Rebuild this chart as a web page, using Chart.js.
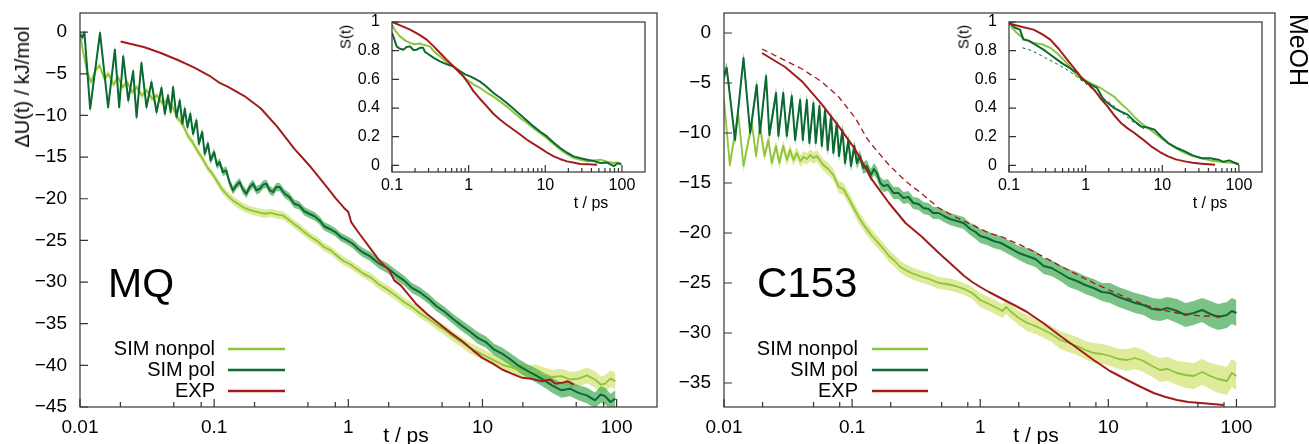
<!DOCTYPE html>
<html><head><meta charset="utf-8">
<script src="https://cdn.jsdelivr.net/npm/chart.js@4.4.1/dist/chart.umd.min.js"></script>
<style>
html,body{margin:0;padding:0;background:#fff;}
body{width:1309px;height:444px;overflow:hidden;position:relative;font-family:"Liberation Sans",Arial,Helvetica,sans-serif;color:#000;}
canvas{position:absolute;}
.t{position:absolute;white-space:nowrap;line-height:1;}
</style></head><body>
<canvas id="mainL" width="665" height="444" style="left:0;top:0"></canvas>
<canvas id="mainR" width="644" height="444" style="left:665px;top:0"></canvas>
<canvas id="insL" width="330" height="215" style="left:330px;top:0"></canvas>
<canvas id="insR" width="330" height="215" style="left:947px;top:0"></canvas>

<div class="t" style="left:22px;top:87px;font-size:20px;transform:translate(-50%,-50%) rotate(-90deg)">ΔU(t) / kJ/mol</div>
<div class="t" style="left:108px;top:283px;font-size:41px;transform:translate(0,-50%)">MQ</div>
<div class="t" style="left:757px;top:283px;font-size:42px;transform:translate(0,-50%)">C153</div>
<div class="t" style="left:406px;top:434px;font-size:21px;transform:translate(-50%,-50%)">t / ps</div>
<div class="t" style="left:1036px;top:434px;font-size:21px;transform:translate(-50%,-50%)">t / ps</div>
<div class="t" style="left:591px;top:203px;font-size:16px;transform:translate(-50%,-50%)">t / ps</div>
<div class="t" style="left:1210px;top:203px;font-size:16px;transform:translate(-50%,-50%)">t / ps</div>
<div class="t" style="left:345px;top:37px;font-size:15px;transform:translate(-50%,-50%) rotate(-90deg)">S(t)</div>
<div class="t" style="left:963px;top:37px;font-size:15px;transform:translate(-50%,-50%) rotate(-90deg)">S(t)</div>
<div class="t" style="left:1298px;top:50px;font-size:25px;transform:translate(-50%,-50%) rotate(90deg)">MeOH</div>

<script>
// ---------------- DATA ----------------
const legendLabels = ['SIM nonpol', 'SIM pol', 'EXP'];
const mainXTicks = [0.01, 0.1, 1, 10, 100];
const mainXLabels = ['0.01', '0.1', '1', '10', '100'];
const mainXMinor = [0.02, 0.05, 0.08, 0.2, 0.5, 0.8, 2, 5, 8, 20, 50, 80];
const mqYTicks = [-45, -40, -35, -30, -25, -20, -15, -10, -5, 0];
const c153YTicks = [-35, -30, -25, -20, -15, -10, -5, 0];
const insetXTicks = [0.1, 1, 10, 100];
const insetXLabels = ['0.1', '1', '10', '100'];
const insetXMinor = [0.2,0.3,0.4,0.5,0.6,0.7,0.8,0.9,2,3,4,5,6,7,8,9,20,30,40,50,60,70,80,90];
const insetYTicks = [0, 0.2, 0.4, 0.6, 0.8, 1];
const insetYLabels = ['0', '0.2', '0.4', '0.6', '0.8', '1'];

// MQ main panel: [t (ps), dU (kJ/mol), band half-width]
const mqNonpol = [
[0.0100,-0.3,0.4],[0.0106,-2.5,0.4],[0.0113,-4.8,0.4],[0.0121,-6.0,0.4],[0.0130,-4.6,0.4],[0.0140,-4.0,0.4],
[0.0152,-5.6,0.4],[0.0163,-5.0,0.4],[0.0178,-6.3,0.4],[0.0192,-5.4,0.4],[0.0208,-6.6,0.4],[0.0225,-6.0,0.4],
[0.0245,-7.2,0.4],[0.0265,-6.6,0.4],[0.0290,-7.6,0.4],[0.0315,-7.0,0.4],[0.0345,-8.0,0.4],[0.0375,-7.6,0.4],
[0.041,-8.5,0.4],[0.045,-8.2,0.4],[0.049,-9.0,0.4],[0.0536,-10.3,0.45],[0.058,-11.0,0.45],[0.0635,-12.4,0.45],
[0.069,-13.2,0.45],[0.0754,-14.3,0.45],[0.082,-15.2,0.45],[0.0895,-16.3,0.45],[0.097,-17.0,0.45],[0.106,-18.0,0.5],
[0.115,-18.9,0.5],[0.126,-19.6,0.5],[0.138,-20.2,0.5],[0.150,-20.6,0.5],[0.168,-21.1,0.5],[0.188,-21.4,0.5],
[0.21,-21.6,0.5],[0.236,-21.8,0.5],[0.265,-21.7,0.5],[0.296,-21.9,0.5],[0.325,-22.0,0.5],[0.352,-22.4,0.5],
[0.385,-22.9,0.5],[0.418,-23.3,0.5],[0.47,-24.0,0.5],[0.525,-24.6,0.5],[0.59,-25.1,0.5],[0.659,-25.8,0.5],
[0.74,-26.2,0.5],[0.83,-26.9,0.5],[0.93,-27.5,0.5],[1.04,-27.9,0.5],[1.15,-28.4,0.5],[1.27,-28.9,0.5],
[1.48,-29.5,0.55],[1.70,-30.3,0.55],[1.95,-30.9,0.55],[2.25,-31.6,0.55],[2.6,-32.4,0.55],[2.98,-33.0,0.55],
[3.45,-33.8,0.55],[3.96,-34.4,0.55],[4.6,-35.2,0.6],[5.25,-35.8,0.6],[6.0,-36.5,0.6],[6.96,-37.2,0.6],
[8.0,-37.9,0.65],[9.23,-38.4,0.65],[10.6,-38.9,0.65],[12.2,-39.4,0.7],[14.0,-39.9,0.7],[16.2,-40.2,0.75],
[18.8,-40.6,0.75],[21.8,-40.8,0.8],[25,-40.7,0.8],[29,-41.1,0.85],[33,-41.4,0.85],[38.8,-41.3,0.9],
[45,-41.7,0.9],[52,-41.6,0.95],[60,-41.2,0.95],[69,-41.7,1.0],[76,-42.3,1.0],[82,-42.2,1.0],[90,-41.6,1.0],[98,-41.9,1.0]
];
const mqPol = [
[0.0100,-0.3,0.4],[0.0104,-0.6,0.4],[0.0108,-0.1,0.4],[0.0119,-9.2,0.5],[0.0141,-0.1,0.5],[0.0162,-9.0,0.5],
[0.0182,-2.1,0.5],[0.0196,-9.0,0.5],[0.0210,-2.9,0.5],[0.0229,-8.2,0.5],[0.0249,-4.7,0.5],[0.0264,-10.2,0.5],
[0.0287,-3.7,0.5],[0.0313,-9.0,0.5],[0.0341,-6.0,0.5],[0.0372,-9.6,0.5],[0.0405,-6.7,0.5],[0.0429,-9.8,0.5],
[0.0453,-7.6,0.5],[0.0474,-9.6,0.5],[0.0494,-6.6,0.5],[0.0524,-10.2,0.5],[0.0554,-8.2,0.5],[0.0580,-11.0,0.5],
[0.0604,-9.2,0.5],[0.0633,-11.4,0.5],[0.0664,-9.8,0.5],[0.0696,-12.2,0.5],[0.0738,-10.6,0.5],[0.0769,-13.4,0.5],
[0.0815,-12.0,0.5],[0.085,-14.6,0.5],[0.090,-13.4,0.5],[0.094,-15.4,0.5],[0.100,-14.4,0.5],[0.105,-16.0,0.5],
[0.110,-15.6,0.5],[0.116,-16.8,0.5],[0.123,-16.6,0.5],[0.130,-18.0,0.5],[0.138,-19.0,0.5],[0.146,-18.4,0.5],
[0.155,-18.0,0.5],[0.164,-18.9,0.5],[0.174,-19.4,0.5],[0.184,-18.6,0.5],[0.195,-18.2,0.5],[0.207,-19.0,0.5],
[0.219,-18.8,0.5],[0.232,-18.3,0.5],[0.245,-18.2,0.5],[0.26,-19.0,0.5],[0.275,-19.2,0.5],[0.29,-18.6,0.5],
[0.308,-18.6,0.5],[0.335,-19.4,0.5],[0.364,-19.8,0.5],[0.395,-20.6,0.5],[0.43,-20.8,0.5],[0.47,-21.5,0.5],
[0.51,-21.8,0.5],[0.56,-22.1,0.5],[0.61,-22.6,0.5],[0.66,-23.3,0.5],[0.72,-23.6,0.5],[0.8,-24.0,0.5],
[0.88,-24.6,0.5],[0.96,-24.9,0.5],[1.08,-25.4,0.55],[1.18,-26.0,0.55],[1.27,-26.4,0.55],[1.45,-26.9,0.55],
[1.70,-27.8,0.6],[1.95,-28.3,0.6],[2.25,-29.1,0.6],[2.6,-29.8,0.6],[2.98,-30.7,0.6],[3.4,-31.2,0.6],
[3.96,-32.0,0.6],[4.55,-32.9,0.6],[5.25,-33.6,0.6],[6.0,-34.4,0.6],[6.96,-35.2,0.65],[8.0,-35.9,0.65],
[9.23,-36.7,0.7],[10.6,-37.2,0.7],[12.2,-38.1,0.7],[14.0,-38.6,0.75],[16.2,-39.3,0.75],[18.8,-40.1,0.8],
[21.8,-40.7,0.8],[25,-41.2,0.85],[29,-41.8,0.85],[33,-42.4,0.9],[38.8,-43.0,0.9],[45,-42.8,0.9],
[52,-43.3,0.9],[60,-43.6,0.95],[69,-44.2,0.95],[76,-43.5,1.0],[82,-43.7,1.0],[90,-44.4,1.0],[98,-44.0,1.0]
];
const mqExp = [
[0.0201,-1.13],[0.0303,-1.81],[0.040,-2.5],[0.0536,-3.34],[0.070,-4.2],[0.0946,-5.35],[0.11,-6.1],[0.126,-6.55],
[0.168,-7.67],[0.223,-9.16],[0.296,-11.37],[0.395,-13.98],[0.525,-16.19],[0.70,-18.7],[0.80,-19.9],[0.93,-21.1],
[1.0,-21.6],[1.05,-22.8],[1.21,-24.2],[1.45,-25.9],[1.70,-27.4],[2.02,-28.6],[2.2,-29.8],[2.46,-30.4],[3.19,-32.6],
[3.9,-33.9],[4.75,-35.0],[5.8,-36.1],[7.08,-37.1],[8.5,-38.2],[9.97,-39.1],[12,-39.8],[14.0,-40.5],[16.5,-41.0],
[19.8,-41.5],[23,-41.6],[27.8,-41.9],[32,-41.7],[35,-42.2],[39.2,-42.1],[43,-41.9],[47.9,-42.3]
];

// C153 main panel
const c153Nonpol = [
[0.0100,-6.7,0.6],[0.0111,-13.2,0.6],[0.0129,-8.0,0.6],[0.0142,-13.3,0.6],[0.0165,-9.0,0.6],[0.0178,-12.3,0.6],
[0.0191,-9.3,0.6],[0.0207,-12.3,0.6],[0.0222,-10.7,0.6],[0.0236,-13.0,0.6],[0.0255,-11.3,0.6],[0.027,-13.0,0.6],
[0.029,-11.3,0.6],[0.031,-12.7,0.6],[0.0328,-11.7,0.6],[0.0348,-12.7,0.6],[0.037,-12.0,0.6],[0.0395,-12.8,0.6],
[0.0417,-12.4,0.6],[0.0445,-12.6,0.6],[0.047,-12.2,0.6],[0.050,-12.5,0.6],[0.053,-12.3,0.6],[0.0565,-12.8,0.6],
[0.0597,-13.2,0.6],[0.065,-13.6,0.6],[0.0714,-14.2,0.6],[0.0787,-15.4,0.6],[0.0855,-15.6,0.6],[0.0964,-16.8,0.6],
[0.106,-17.8,0.6],[0.115,-18.6,0.6],[0.128,-19.5,0.6],[0.143,-20.3,0.6],[0.16,-21.0,0.6],[0.176,-21.6,0.6],
[0.194,-22.3,0.6],[0.215,-22.8,0.6],[0.238,-23.4,0.6],[0.261,-23.7,0.6],[0.29,-24.0,0.6],[0.32,-24.2,0.6],
[0.352,-24.4,0.6],[0.40,-24.6,0.6],[0.475,-25.0,0.6],[0.55,-25.1,0.6],[0.641,-25.3,0.6],[0.75,-25.6,0.6],
[0.866,-26.0,0.6],[1.0,-26.7,0.7],[1.17,-27.1,0.7],[1.35,-27.5,0.7],[1.49,-27.8,0.7],[1.6,-27.4,0.7],
[1.71,-27.8,0.7],[2.0,-28.5,0.7],[2.32,-29.0,0.8],[2.7,-29.3,0.8],[3.13,-29.7,0.8],[3.6,-30.1,0.8],
[4.22,-30.7,0.9],[4.9,-31.0,0.9],[5.69,-31.3,0.9],[6.6,-31.7,0.9],[7.67,-32.0,1.0],[8.9,-32.1,1.0],
[10.3,-32.3,1.0],[12,-32.6,1.0],[14.0,-32.7,1.1],[16.2,-32.5,1.1],[18.8,-32.8,1.1],[22,-33.3,1.1],
[25.4,-33.7,1.2],[29,-33.6,1.2],[34.4,-34.0,1.2],[40,-34.2,1.3],[46.4,-34.3,1.3],[54,-33.9,1.3],
[62.5,-34.3,1.3],[72,-34.6,1.4],[84.3,-34.8,1.4],[92,-34.0,1.4],[100,-34.3,1.4]
];
const c153Pol = [
[0.0100,-4.3,0.6],[0.0105,-3.5,0.6],[0.0122,-10.7,0.6],[0.0142,-2.5,0.6],[0.0160,-10.0,0.6],[0.0180,-5.2,0.6],
[0.0191,-10.0,0.6],[0.0213,-4.3,0.6],[0.0226,-10.2,0.6],[0.0255,-6.0,0.6],[0.0266,-10.3,0.6],[0.0290,-6.0,0.6],
[0.0309,-10.3,0.6],[0.0338,-6.3,0.6],[0.0359,-10.7,0.6],[0.0393,-6.7,0.6],[0.0412,-10.7,0.6],[0.0443,-6.7,0.6],
[0.0464,-11.0,0.6],[0.0499,-7.0,0.6],[0.0520,-11.0,0.6],[0.0556,-7.3,0.6],[0.0580,-11.3,0.6],[0.0615,-7.7,0.6],
[0.0645,-11.7,0.6],[0.0685,-8.3,0.6],[0.0714,-12.0,0.6],[0.0759,-9.0,0.6],[0.079,-12.3,0.6],[0.084,-9.7,0.6],
[0.088,-13.0,0.6],[0.0935,-10.7,0.6],[0.098,-13.3,0.6],[0.104,-11.3,0.6],[0.109,-13.0,0.6],[0.115,-12.3,0.6],
[0.122,-13.5,0.6],[0.130,-13.3,0.6],[0.140,-14.2,0.6],[0.148,-13.6,0.6],[0.156,-14.0,0.6],[0.166,-15.0,0.6],
[0.176,-15.3,0.6],[0.19,-15.2,0.6],[0.21,-16.0,0.6],[0.23,-16.0,0.6],[0.252,-16.5,0.6],[0.275,-16.4,0.6],
[0.30,-17.0,0.6],[0.33,-17.1,0.6],[0.36,-17.5,0.6],[0.395,-17.6,0.6],[0.43,-18.0,0.6],[0.475,-18.0,0.6],
[0.52,-18.3,0.6],[0.58,-18.6,0.6],[0.657,-18.8,0.6],[0.74,-19.0,0.6],[0.836,-19.6,0.6],[0.92,-19.9,0.7],
[1.0,-20.3,0.7],[1.13,-20.5,0.7],[1.27,-20.8,0.7],[1.45,-21.0,0.7],[1.71,-21.5,0.7],[2.0,-22.0,0.7],
[2.32,-22.3,0.8],[2.7,-22.6,0.8],[3.13,-23.3,0.8],[3.6,-23.5,0.8],[4.22,-24.0,0.8],[4.9,-24.5,0.9],
[5.69,-24.8,0.9],[6.6,-25.2,0.9],[7.67,-25.5,0.9],[8.9,-25.9,0.9],[10.3,-26.0,1.0],[12,-26.4,1.0],
[14.0,-26.7,1.0],[16.2,-27.0,1.0],[18.8,-27.2,1.0],[22,-27.6,1.1],[25.4,-27.7,1.1],[29,-27.5,1.1],
[34.4,-27.8,1.2],[40,-28.2,1.2],[46.4,-28.0,1.2],[54,-27.7,1.2],[62.5,-28.1,1.3],[72,-28.4,1.3],
[84.3,-28.2,1.3],[92,-27.8,1.3],[100,-28.0,1.3]
];
const c153Exp = [
[0.0198,-2.0],[0.030,-3.4],[0.0407,-4.84],[0.0583,-7.17],[0.0787,-9.34],[0.106,-11.67],[0.143,-14.67],
[0.194,-17.0],[0.261,-19.0],[0.352,-20.4],[0.475,-22.0],[0.641,-23.5],[0.75,-24.3],[0.866,-24.9],[1.0,-25.4],
[1.17,-25.9],[1.49,-26.6],[1.9,-27.3],[2.32,-27.9],[3.1,-29.0],[4.22,-30.3],[5.7,-31.5],[7.67,-32.7],[10.3,-33.8],
[14.0,-34.7],[18,-35.4],[22.6,-36.0],[28,-36.4],[34.4,-36.7],[42,-36.9],[52.4,-37.0],[65,-37.1],[79.5,-37.2]
];
const c153ExpShifted = [
[0.0198,-1.6],[0.0407,-3.6],[0.0583,-4.9],[0.0787,-6.4],[0.106,-8.5],[0.13,-10.5],[0.143,-11.2],[0.194,-13.2],
[0.261,-14.8],[0.352,-16.1],[0.475,-17.5],[0.641,-18.4],[0.866,-19.2],[1.17,-20.0],[1.49,-20.4],[2.32,-21.5],
[4.22,-23.3],[7.67,-25.0],[14.0,-26.5],[22.6,-27.5],[34.4,-28.0],[52.4,-28.3],[79.5,-28.3]
];

// insets: [t (ps), S(t)]
const mqInsetExp = [
[0.1,1.0],[0.13,0.975],[0.172,0.947],[0.22,0.915],[0.284,0.877],[0.35,0.83],[0.424,0.784],[0.52,0.735],
[0.633,0.691],[0.74,0.655],[0.855,0.621],[1.0,0.57],[1.16,0.516],[1.4,0.465],[1.73,0.412],[2.1,0.36],
[2.58,0.319],[3.1,0.285],[3.86,0.249],[4.7,0.215],[5.77,0.179],[7.0,0.15],[8.61,0.121],[10.5,0.09],
[12.9,0.063],[15.5,0.045],[19.2,0.028],[23,0.02],[28.7,0.01],[36,0.008],[47.4,0.005]
];
const mqInsetNonpol = [
[0.1,0.98],[0.11,0.94],[0.127,0.90],[0.15,0.87],[0.172,0.854],[0.2,0.845],[0.23,0.85],[0.255,0.842],
[0.31,0.83],[0.36,0.79],[0.424,0.76],[0.52,0.72],[0.633,0.69],[0.78,0.64],[0.946,0.598],[1.15,0.565],
[1.41,0.54],[1.7,0.51],[2.11,0.48],[2.6,0.445],[3.15,0.41],[3.85,0.37],[4.71,0.33],[5.7,0.3],[7.03,0.26],
[8.6,0.225],[10.5,0.19],[12.8,0.15],[15.7,0.11],[19,0.08],[23.4,0.052],[29,0.04],[35.1,0.028],[43,0.035],
[52.4,0.04],[64,0.025],[78.4,0.017],[88,0.02],[98,0.005]
];
const mqInsetPol = [
[0.1,0.924],[0.107,0.88],[0.115,0.83],[0.125,0.815],[0.141,0.807],[0.155,0.825],[0.172,0.83],[0.19,0.805],
[0.21,0.807],[0.232,0.82],[0.255,0.82],[0.27,0.79],[0.284,0.784],[0.35,0.75],[0.424,0.726],[0.52,0.705],
[0.633,0.69],[0.777,0.656],[0.9,0.635],[1.05,0.621],[1.2,0.605],[1.41,0.584],[1.7,0.55],[2.11,0.505],
[2.6,0.47],[3.15,0.435],[3.85,0.395],[4.71,0.354],[5.7,0.315],[7.03,0.272],[8.6,0.235],[10.5,0.202],
[12.8,0.16],[15.7,0.121],[19,0.09],[23.4,0.063],[29,0.05],[35.1,0.04],[43,0.03],[52.4,0.017],[64,0.02],
[78.4,-0.005],[88,0.015],[98,0.01]
];
const c153InsetExp = [
[0.1,0.99],[0.15,0.965],[0.209,0.947],[0.27,0.915],[0.346,0.877],[0.45,0.81],[0.574,0.738],[0.7,0.68],
[0.859,0.621],[1.05,0.575],[1.29,0.528],[1.55,0.47],[1.93,0.412],[2.35,0.35],[2.89,0.296],[3.5,0.26],
[4.33,0.226],[5.6,0.18],[7.16,0.133],[9.2,0.095],[11.9,0.063],[15,0.042],[19.7,0.028],[25,0.018],
[32.6,0.012],[40,0.008],[48.8,0.005]
];
const c153InsetNonpol = [
[0.1,1.0],[0.11,0.96],[0.126,0.924],[0.16,0.88],[0.209,0.854],[0.27,0.845],[0.346,0.82],[0.45,0.77],
[0.574,0.71],[0.78,0.621],[0.95,0.598],[1.2,0.57],[1.57,0.54],[1.9,0.51],[2.35,0.48],[2.9,0.43],
[3.53,0.389],[4.3,0.34],[5.29,0.296],[6.5,0.26],[7.92,0.226],[9.7,0.19],[11.9,0.156],[15,0.12],
[19.7,0.086],[25,0.065],[32.6,0.05],[42,0.035],[54,0.028],[70,0.02],[89,0.017],[100,0.01]
];
const c153InsetPol = [
[0.1,1.0],[0.12,0.96],[0.139,0.947],[0.154,0.877],[0.18,0.87],[0.209,0.85],[0.24,0.83],[0.282,0.807],
[0.33,0.78],[0.424,0.738],[0.5,0.71],[0.574,0.691],[0.68,0.665],[0.78,0.645],[0.9,0.6],[1.07,0.575],
[1.2,0.56],[1.41,0.54],[1.55,0.5],[1.72,0.458],[2.0,0.43],[2.35,0.40],[2.9,0.375],[3.53,0.354],[4.3,0.31],
[5.29,0.272],[6.4,0.265],[7.92,0.249],[9.7,0.2],[11.9,0.156],[15,0.125],[19.7,0.098],[25,0.07],[32.6,0.05],
[42,0.05],[54,0.04],[63,0.025],[75,0.035],[89,0.017],[100,0.005]
];
const c153InsetPolAlt = [
[0.15,0.82],[0.2,0.80],[0.3,0.75],[0.45,0.70],[0.6,0.66],[0.8,0.61],[1.0,0.57],[1.3,0.52],[1.7,0.47],
[2.5,0.40],[4,0.31],[6,0.25]
];

// ---------------- STYLE / BUILD ----------------
const COL_NONPOL = '#8cc43c', COL_POL = '#0b6a33', COL_EXP = '#a31c1c';
const BAND_NONPOL = 'rgba(212,228,120,0.75)', BAND_POL = 'rgba(72,170,88,0.72)';
Chart.defaults.font.family = '"Liberation Sans", Arial, Helvetica, sans-serif';
Chart.defaults.color = '#000';

const pts = (rows, k) => rows.map(r => ({x: r[0], y: k === undefined ? r[1] : r[1] + k * r[2]}));
const minus = v => (v < 0 ? '\u2212' + Math.abs(v) : String(v));

function bandPair(rows, color, order) {
  return [
    {data: pts(rows, 1), borderWidth: 0, pointRadius: 0, fill: false, order},
    {data: pts(rows, -1), borderWidth: 0, pointRadius: 0, fill: '-1', backgroundColor: color, order}
  ];
}
function line(rows, color, width, order, dash) {
  return {data: pts(rows), borderColor: color, borderWidth: width, pointRadius: 0, fill: false,
          tension: 0, order, borderDash: dash || [], borderJoinStyle: 'round'};
}

const framePlugin = {
  id: 'frame',
  afterDraw(chart, args, o) {
    const {ctx, chartArea: a} = chart;
    const x = chart.scales.x, y = chart.scales.y;
    ctx.save();
    ctx.strokeStyle = '#333'; ctx.lineWidth = 1.2;
    ctx.strokeRect(a.left, a.top, a.right - a.left, a.bottom - a.top);
    ctx.beginPath();
    o.xMajor.forEach(v => { const p = x.getPixelForValue(v); ctx.moveTo(p, a.bottom); ctx.lineTo(p, a.bottom - o.major); });
    o.xMinor.forEach(v => { const p = x.getPixelForValue(v); ctx.moveTo(p, a.bottom); ctx.lineTo(p, a.bottom - o.minor); });
    o.yMajor.forEach(v => { const p = y.getPixelForValue(v); ctx.moveTo(a.left, p); ctx.lineTo(a.left + o.major, p); });
    ctx.stroke();
    if (o.legend) {
      const L = o.legend;
      ctx.font = '20px "Liberation Sans", Arial, sans-serif';
      ctx.fillStyle = '#000'; ctx.textAlign = 'right'; ctx.textBaseline = 'middle';
      legendLabels.forEach((lab, i) => {
        const yy = L.rows[i];
        ctx.fillText(lab, L.textRight, yy);
        ctx.beginPath(); ctx.strokeStyle = L.colors[i]; ctx.lineWidth = 2.4;
        ctx.moveTo(L.x0, yy); ctx.lineTo(L.x1, yy); ctx.stroke();
      });
    }
    ctx.restore();
  }
};

const fitX = h => s => { s.height = h; s.paddingLeft = 0; s.paddingRight = 0; };
const fitY = w => s => { s.width = w; s.paddingTop = 0; s.paddingBottom = 0; };

function mainChart(id, datasets, cfg) {
  return new Chart(document.getElementById(id), {
    type: 'line',
    data: {datasets},
    plugins: [framePlugin],
    options: {
      responsive: false, animation: false, events: [],
      layout: {padding: {left: 0, top: 13, right: cfg.padR, bottom: 0}},
      plugins: {legend: {display: false}, tooltip: {enabled: false},
        frame: {xMajor: mainXTicks, xMinor: mainXMinor, yMajor: cfg.yTicks, major: 8, minor: 5, legend: cfg.legend}},
      scales: {
        x: {type: 'logarithmic', min: 0.01, max: 200,
            afterBuildTicks: s => { s.ticks = mainXTicks.map(v => ({value: v})); },
            afterFit: fitX(37),
            grid: {display: false, drawTicks: false}, border: {display: false},
            ticks: {autoSkip: false, maxRotation: 0, padding: 9, font: {size: 19}, color: '#000',
                    callback: (v, i) => mainXLabels[i]}},
        y: {type: 'linear', min: cfg.ymin, max: cfg.ymax,
            afterBuildTicks: s => { s.ticks = cfg.yTicks.map(v => ({value: v})); },
            afterFit: fitY(cfg.yw),
            grid: {display: false, drawTicks: false}, border: {display: false},
            ticks: {padding: 13, font: {size: 19}, color: '#000', callback: v => minus(v)}}
      }
    }
  });
}

function insetChart(id, datasets) {
  return new Chart(document.getElementById(id), {
    type: 'line',
    data: {datasets},
    plugins: [framePlugin],
    options: {
      responsive: false, animation: false, events: [],
      layout: {padding: {left: 0, top: 22, right: 15, bottom: 0}},
      plugins: {legend: {display: false}, tooltip: {enabled: false},
        frame: {xMajor: insetXTicks, xMinor: insetXMinor, yMajor: insetYTicks, major: 7, minor: 4}},
      scales: {
        x: {type: 'logarithmic', min: 0.1, max: 200,
            afterBuildTicks: s => { s.ticks = insetXTicks.map(v => ({value: v})); },
            afterFit: fitX(43),
            grid: {display: false, drawTicks: false}, border: {display: false},
            ticks: {autoSkip: false, maxRotation: 0, padding: 4, font: {size: 16}, color: '#000',
                    callback: (v, i) => insetXLabels[i]}},
        y: {type: 'linear', min: -0.046, max: 1,
            afterBuildTicks: s => { s.ticks = insetYTicks.map(v => ({value: v})); },
            afterFit: fitY(62),
            grid: {display: false, drawTicks: false}, border: {display: false},
            ticks: {padding: 12, font: {size: 16}, color: '#000', callback: (v, i) => insetYLabels[i]}}
      }
    }
  });
}

const legendColors = [COL_NONPOL, COL_POL, COL_EXP];

mainChart('mainL', [
  ...bandPair(mqNonpol, BAND_NONPOL, 6),
  ...bandPair(mqPol, BAND_POL, 5),
  line(mqNonpol, COL_NONPOL, 1.8, 3),
  line(mqPol, COL_POL, 2, 2),
  line(mqExp, COL_EXP, 2, 1)
], {padR: 8, ymin: -45, ymax: 2.3, yTicks: mqYTicks, yw: 80,
    legend: {textRight: 215, x0: 228, x1: 285, rows: [349, 370, 391], colors: legendColors}});

mainChart('mainR', [
  ...bandPair(c153Nonpol, BAND_NONPOL, 6),
  ...bandPair(c153Pol, BAND_POL, 5),
  line(c153Nonpol, COL_NONPOL, 1.8, 3),
  line(c153Pol, COL_POL, 2, 2),
  line(c153ExpShifted, COL_EXP, 1.3, 1, [6, 4]),
  line(c153Exp, COL_EXP, 2, 0)
], {padR: 34, ymin: -37.4, ymax: 2.0, yTicks: c153YTicks, yw: 59,
    legend: {textRight: 858 - 665, x0: 872 - 665, x1: 928 - 665, rows: [349, 370, 391], colors: legendColors}});

insetChart('insL', [
  line(mqInsetNonpol, COL_NONPOL, 2, 3),
  line(mqInsetPol, COL_POL, 2, 2),
  line(mqInsetExp, COL_EXP, 2, 1)
]);
insetChart('insR', [
  line(c153InsetPolAlt, COL_POL, 1, 4, [3, 3]),
  line(c153InsetNonpol, COL_NONPOL, 2, 3),
  line(c153InsetPol, COL_POL, 2, 2),
  line(c153InsetExp, COL_EXP, 2, 1)
]);
</script>
</body></html>
